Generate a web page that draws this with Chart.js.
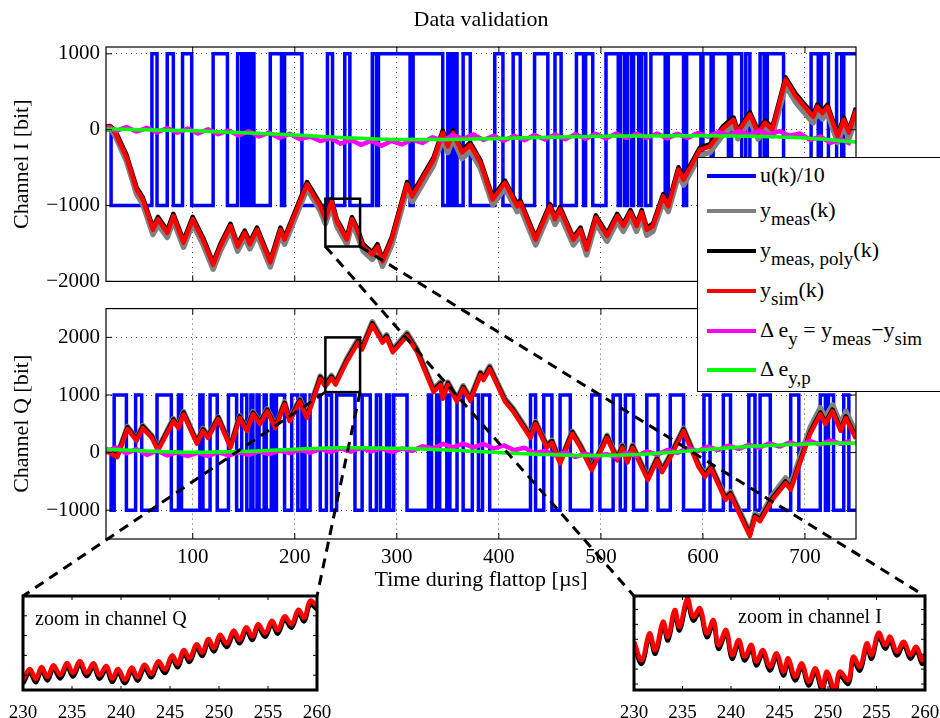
<!DOCTYPE html>
<html>
<head>
<meta charset="utf-8">
<script src="https://cdn.jsdelivr.net/npm/chart.js@4.4.1/dist/chart.umd.min.js"></script>
<style>
  html, body { margin: 0; padding: 0; background: #fff; overflow: hidden; }
  #page { position: relative; width: 940px; height: 718px; overflow: hidden; font-family: 'Liberation Serif', serif; }
  #page canvas { position: absolute; }
  #legend { position: absolute; left: 697px; top: 157px; width: 270px; height: 233px; border: 1.5px solid #000; background: #fff; }
  .row { position: absolute; left: 0; width: 100%; height: 0; }
  .sw { position: absolute; left: 9px; top: -2px; width: 49px; height: 4px; }
  .lab { position: absolute; left: 62px; top: -14px; white-space: nowrap; font-size: 22px; line-height: 26px; }
  .lab sub { font-size: 19px; vertical-align: -8px; line-height: 1; }
  #overlay { pointer-events: none; }
</style>
</head>
<body>
<div id="page">
  <canvas id="chartI" width="940" height="300" style="left:0;top:0"></canvas>
  <canvas id="chartQ" width="940" height="310" style="left:0;top:290px"></canvas>
  <canvas id="zoomQ" width="340" height="138" style="left:0;top:580px"></canvas>
  <canvas id="zoomI" width="345" height="138" style="left:600px;top:580px"></canvas>
  <canvas id="overlay" width="940" height="718" style="left:0;top:0"></canvas>
  <div id="legend"></div>
</div>
<script>
// ---------- channel I ----------
const tI = [15,19,24,35,45,51,61,66,75,81, 91,100,110,120,127,137,144,151,156,163,
  176,186,190,212,225,230,236,241,251,256, 261,267,276,281,286,295,310,315,336,345,
  350,355,364,372,382,394,406,418,421,436, 450,455,460,473,480,486,495,506,516,522,
  529,535,540,545,551,561,566,576,581,597, 607,620,630,634,646,654,661,668,681,691,
  708,712,717,722,732,738,743,750];
const simI = [30,40,-40,-360,-790,-920,-1320,-1180,-1360,-1140, -1490,-1180,-1450,-1780,-1540,-1270,-1540,-1360,-1510,-1320,
  -1750,-1320,-1450,-720,-1010,-1180,-945,-1205,-1450,-1180, -1320,-1540,-1645,-1540,-1735,-1450,-720,-880,-395,-40,
  -220,-40,-300,-200,-435,-920,-700,-1010,-960,-1450, -1010,-1180,-1050,-1450,-1320,-1580,-1160,-1400,-1140,-1270,
  -1090,-1270,-1090,-1320,-1270,-880,-1010,-525,-660,-265, -220,20,130,-40,200,-40,90,0,660,440,
  170,300,220,300,-90,130,-40,260];
const measI = [20,20,-80,-410,-850,-980,-1380,-1250,-1420,-1200, -1550,-1240,-1510,-1840,-1600,-1330,-1600,-1420,-1570,-1380,
  -1810,-1380,-1510,-780,-1070,-1240,-1010,-1270,-1510,-1240, -1380,-1600,-1710,-1610,-1800,-1520,-790,-950,-470,-120,
  -300,-120,-380,-280,-510,-990,-770,-1080,-1030,-1520, -1080,-1250,-1120,-1520,-1390,-1650,-1230,-1470,-1210,-1340,
  -1160,-1340,-1160,-1390,-1340,-950,-1080,-600,-730,-340, -300,-60,50,-120,120,-120,10,-80,580,360,
  90,220,140,220,-170,50,-120,170];
const polyI = [40,50,-10,-330,-760,-890,-1290,-1150,-1330,-1110, -1460,-1150,-1420,-1750,-1510,-1240,-1510,-1330,-1480,-1290,
  -1720,-1290,-1420,-690,-980,-1150,-915,-1175,-1420,-1150, -1290,-1510,-1615,-1510,-1705,-1420,-690,-850,-365,-10,
  -190,-10,-270,-170,-405,-890,-670,-980,-930,-1420, -980,-1150,-1020,-1420,-1290,-1550,-1130,-1370,-1110,-1240,
  -1060,-1240,-1060,-1290,-1240,-850,-980,-495,-630,-235, -190,50,160,-10,230,-10,120,30,690,470,
  200,330,250,330,-60,160,-10,290];
// u(k)/10 = +1000 inside these intervals, -1000 elsewhere
const uHighI = [[60,65],[75,81],[90,99],[120,134],[144,148],[151,154],[157,160],[176,187],[190,207],
  [232,237],[249,254],[276,280],[282,313],[316,345],[350,353],[356,359],[365,372],[396,404],[414,421],
  [435,448],[455,461],[476,483],[485,492],[505,517],[519,523],[526,530],[532,537],[540,544],[549,563],
  [566,581],[584,598],[600,608],[610,625],[628,638],[642,646],[656,660],[663,679],[706,713],[716,723],
  [731,736],[738,750]];

// ---------- channel Q ----------
const tQ = [15,26,36,45,51,60,66,81,86,91, 104,110,115,125,137,146,153,159,166,173,
  181,190,195,205,212,225,230,236,240,251, 262,266,276,286,290,296,310,320,336,343,
  345,350,359,365,372,382,385,391,406,414, 431,436,447,452,460,472,480,491,506,516,
  521,526,531,546,555,560,568,581,596,602, 608,622,627,646,651,656,668,681,686,705,
  715,720,727,735,740,750];
const simQ = [35,-80,410,205,425,255,35,545,425,665, 155,375,255,580,85,600,375,665,495,715,
  425,835,545,885,600,1280,1150,1290,1180,1580, 1910,1790,2215,1910,1995,1740,2025,1740,1055,1175,
  935,1175,885,1110,900,1345,1260,1450,885,715, 255,495,85,170,-190,325,85,-305,255,-135,
  85,-170,85,-475,-135,-340,-85,375,-260,-420, -278,-820,-735,-1450,-1125,-1190,-820,-530,-645,325,
  665,495,715,375,600,240];
const measQ = [60,-50,450,240,470,290,70,590,460,710, 190,420,290,620,120,640,410,710,530,760,
  460,880,580,930,640,1330,1190,1340,1220,1630, 1970,1840,2270,1960,2045,1790,2080,1790,1110,1225,
  985,1225,935,1160,950,1395,1310,1500,935,765, 300,540,130,215,-150,370,130,-260,300,-90,
  130,-125,130,-430,-90,-295,-40,420,-210,-370, -230,-770,-680,-1390,-1060,-1120,-740,-440,-550,430,
  780,610,830,490,720,350];
const polyQ = [55,-55,440,235,455,285,60,575,455,695, 185,405,285,610,115,630,405,695,525,745,
  455,865,575,915,630,1310,1180,1320,1210,1610, 1940,1820,2245,1940,2025,1770,2055,1770,1085,1205,
  965,1205,915,1140,930,1375,1290,1480,915,745, 285,525,115,200,-160,355,115,-275,285,-105,
  115,-140,115,-445,-105,-310,-55,405,-230,-390, -248,-790,-705,-1420,-1095,-1160,-790,-500,-615,355,
  695,525,745,405,630,270];
const uHighQ = [[23,35],[44,50],[65,79],[86,89],[107,110],[117,124],[135,143],[148,153],[157,159],
  [163,165],[170,172],[177,179],[182,190],[197,203],[207,210],[215,225],[231,236],[241,259],[266,274],
  [280,284],[290,293],[297,310],[331,334],[339,342],[349,352],[359,365],[374,380],[384,391],[431,436],
  [444,452],[460,470],[491,499],[512,519],[524,532],[545,556],[568,581],[601,607],[620,627],[645,651],
  [656,666],[686,694],[715,720],[723,728],[738,743]];

// ---------- errors ----------
const tErr = [15,25,35,45,55,65,75,85,95,105, 115,125,135,145,155,165,175,185,195,205,
  215,225,235,245,255,265,275,285,295,305, 315,325,335,345,355,365,375,385,395,405,
  415,425,435,445,455,465,475,485,495,505, 515,525,535,545,555,565,575,585,595,605,
  615,625,635,645,655,665,675,685,695,705, 715,725,735,745];
const errI = [40,-15,35,-25,25,-35,20,-40,15,-50, 5,-60,-10,-75,-20,-90,-40,-110,-55,-125,
  -90,-150,-110,-185,-135,-200,-145,-210,-150,-195, -130,-175,-100,-145,-70,-120,-65,-135,-80,-145,
  -80,-140,-70,-130,-65,-125,-60,-120,-55,-115, -50,-110,-55,-110,-50,-115,-55,-110,-45,-90,
  -30,-80,-20,-70,-15,-65,-20,-80,-50,-135, -90,-175,-125,-190];
const errQ = [20,90,-10,60,-40,35,-50,10,-60,0, -60,10,-50,5,-40,20,-25,35,-10,50,
  0,65,10,75,15,80,20,75,10,70, 30,110,70,150,90,155,90,150,70,125,
  40,85,-10,30,-50,0,-75,-20,-80,-25, -75,-5,-55,20,-35,45,-5,80,25,105,
  45,120,65,135,85,160,105,175,125,200, 140,210,150,205];
const tFit = [15,50,100,150,200,250,300,350,400,450,500,550,600,650,700,750];
const fitI = [10,0,-15,-40,-70,-105,-128,-128,-115,-100,-88,-82,-80,-88,-110,-162];
const fitQ = [60,30,5,20,60,85,75,45,0,-35,-50,-20,50,110,150,168];

// ---------- ticks ----------
const timeTicks = [100, 200, 300, 400, 500, 600, 700];
const yTicksI = [-2000, -1000, 0, 1000];
const yTicksQ = [-1000, 0, 1000, 2000];
const zoomTicks = [230, 235, 240, 245, 250, 255, 260];
const zoomYTicksQ = [1200, 1400, 1600, 1800, 2000];
const zoomYTicksI = [-1500, -1400, -1300, -1200, -1100, -1000];

// ---------- zoom windows ----------
const boxT = [230, 264];
const boxVI = [-1540, -910];
const boxVQ = [1050, 2000];
const tZQ = [230.0,230.7,231.3,231.9,232.5,233.1,233.8,234.5,235.1,235.8, 236.5,237.2,237.8,238.5,239.1,239.7,240.4,241.1,241.7,242.4,
  243.1,243.8,244.5,245.2,245.8,246.4,247.0,247.7,248.3,248.9, 249.5,250.1,250.8,251.5,252.1,252.8,253.4,254.0,254.7,255.4,
  256.0,256.7,257.4,258.1,258.7,259.3,260.0];
const zSimQ = [1150,1262,1163,1283,1182,1301,1202,1323,1221,1342, 1225,1321,1199,1293,1167,1263,1153,1277,1179,1305,
  1213,1340,1257,1399,1316,1453,1370,1512,1429,1565, 1475,1608,1519,1650,1557,1685,1590,1715,1623,1750,
  1655,1795,1715,1860,1780,1950,1900];
const zPolyQ = [1115,1227,1128,1248,1147,1266,1167,1288,1186,1307, 1190,1286,1164,1258,1132,1228,1118,1242,1144,1270,
  1178,1305,1222,1364,1281,1418,1335,1477,1394,1530, 1440,1573,1484,1615,1522,1650,1555,1680,1588,1715,
  1620,1760,1680,1825,1745,1915,1865];
const tZI = [230.0,230.8,231.6,232.2,233.0,233.5,234.2,234.7,235.5,236.1, 236.8,237.5,238.2,238.7,239.5,240.1,240.8,241.4,242.1,242.6,
  243.3,244.0,244.7,245.4,245.9,246.6,247.3,248.0,248.7,249.4, 249.9,250.7,251.2,252.1,252.6,253.3,254.0,254.5,255.2,255.9,
  256.4,257.1,257.8,258.5,259.1,259.7,260.0];
const zSimI = [-1215,-1339,-1160,-1272,-1082,-1183,-1004,-1116,-926,-1049, -992,-1160,-1071,-1238,-1138,-1305,-1205,-1317,-1238,-1350,
  -1272,-1384,-1294,-1417,-1328,-1451,-1361,-1484,-1395,-1518, -1417,-1540,-1417,-1473,-1317,-1384,-1227,-1305,-1156,-1238,
  -1183,-1283,-1216,-1305,-1250,-1339,-1305];
const zPolyI = [-1240,-1364,-1185,-1297,-1107,-1208,-1029,-1141,-951,-1074, -1017,-1185,-1096,-1263,-1163,-1330,-1230,-1342,-1263,-1375,
  -1297,-1409,-1319,-1442,-1353,-1476,-1386,-1509,-1420,-1543, -1442,-1565,-1442,-1498,-1342,-1409,-1252,-1330,-1181,-1263,
  -1208,-1308,-1241,-1330,-1275,-1364,-1330];

const legendNames = ['u(k)/10', 'y<sub>meas</sub>(k)', 'y<sub>meas, poly</sub>(k)', 'y<sub>sim</sub>(k)',
  'Δ e<sub>y</sub> = y<sub>meas</sub>−y<sub>sim</sub>', 'Δ e<sub>y,p</sub>'];
const colors = ['#0000ff', '#808080', '#000000', '#ff0000', '#ff00ff', '#00ff00'];

Chart.defaults.font.family = "'Liberation Serif', serif";
Chart.defaults.color = '#000';
Chart.defaults.animation = false;
Chart.defaults.plugins.legend.display = false;
Chart.defaults.plugins.tooltip.enabled = false;

const pts = (xs, ys) => xs.map((x, i) => ({ x: x, y: ys[i] }));
const fixTicks = vals => s => { s.ticks = vals.map(v => ({ value: v })); };

function stepData(highs) {
  const d = [{ x: 15, y: 0 }, { x: 20, y: -1000 }];
  highs.forEach(h => {
    d.push({ x: h[0], y: 1000 });
    if (h[1] < 750) d.push({ x: h[1], y: -1000 });
  });
  const last = d[d.length - 1];
  if (last.x < 750) d.push({ x: 750, y: last.y });
  return d;
}

// frame, inward ticks, zoom rectangle and note text
const framePlugin = {
  id: 'frame',
  afterDatasetsDraw(chart, args, o) {
    const { ctx, chartArea: a } = chart;
    const x = chart.scales.x, y = chart.scales.y;
    ctx.save();
    ctx.strokeStyle = '#000';
    ctx.lineWidth = 1;
    ctx.beginPath();
    x.ticks.forEach(tk => {
      const p = x.getPixelForValue(tk.value);
      ctx.moveTo(p, a.bottom); ctx.lineTo(p, a.bottom - o.tick);
      ctx.moveTo(p, a.top); ctx.lineTo(p, a.top + o.tick);
    });
    y.ticks.forEach(tk => {
      const p = y.getPixelForValue(tk.value);
      ctx.moveTo(a.left, p); ctx.lineTo(a.left + o.tick, p);
      ctx.moveTo(a.right, p); ctx.lineTo(a.right - o.tick, p);
    });
    ctx.stroke();
    ctx.lineWidth = o.width;
    ctx.strokeRect(a.left, a.top, a.right - a.left, a.bottom - a.top);
    if (o.box) {
      const x0 = x.getPixelForValue(o.box.t[0]), x1 = x.getPixelForValue(o.box.t[1]);
      const y0 = y.getPixelForValue(o.box.v[1]), y1 = y.getPixelForValue(o.box.v[0]);
      ctx.lineWidth = 2.5;
      ctx.strokeRect(x0, y0, x1 - x0, y1 - y0);
    }
    if (o.note) {
      ctx.font = "20px 'Liberation Serif', serif";
      ctx.fillStyle = '#000';
      ctx.textBaseline = 'alphabetic';
      ctx.fillText(o.note.text, a.left + o.note.dx, a.top + o.note.dy);
    }
    ctx.restore();
  }
};

const lineBase = { pointRadius: 0, fill: false, borderJoinStyle: 'round' };

function mainChart(id, c) {
  return new Chart(document.getElementById(id), {
    type: 'line',
    data: {
      datasets: [
        Object.assign({ data: pts(tFit, c.fit), borderColor: colors[5], borderWidth: 3.5, tension: 0.4 }, lineBase),
        Object.assign({ data: pts(tErr, c.err), borderColor: colors[4], borderWidth: 4.5 }, lineBase),
        Object.assign({ data: pts(c.t, c.sim), borderColor: colors[3], borderWidth: 4.5 }, lineBase),
        Object.assign({ data: pts(c.t, c.poly), borderColor: colors[2], borderWidth: 4.5 }, lineBase),
        Object.assign({ data: pts(c.t, c.meas), borderColor: colors[1], borderWidth: 5.5 }, lineBase),
        { data: stepData(c.uHigh), borderColor: colors[0], borderWidth: 3.5, pointRadius: 0, stepped: 'before' }
      ]
    },
    options: {
      responsive: false,
      layout: { padding: c.padding },
      plugins: {
        title: c.title ? {
          display: true, text: c.title, fullSize: false,
          font: { size: 22, weight: 'normal' }, padding: { top: 7, bottom: 13.6 }
        } : { display: false },
        frame: { width: 1.2, tick: 6, box: c.box }
      },
      scales: {
        x: {
          type: 'linear', min: 15, max: 750,
          afterFit: s => { s.height = c.showX ? 61 : 0; },
          afterBuildTicks: fixTicks(timeTicks),
          ticks: { display: c.showX, padding: 6, font: { size: 21 } },
          grid: { drawTicks: false, color: '#555' },
          border: { display: false, dash: [1, 4] },
          title: {
            display: c.showX, text: 'Time during flattop [µs]',
            font: { size: 22 }, padding: { top: 0, bottom: 7 }
          }
        },
        y: {
          min: c.yMin, max: c.yMax,
          afterFit: s => { s.width = 106; },
          afterBuildTicks: fixTicks(c.yTicks),
          ticks: {
            padding: 6, font: { size: 21 },
            callback: v => String(v).replace('-', '−')
          },
          grid: { drawTicks: false, color: '#555' },
          border: { display: false, dash: [1, 4] },
          title: { display: true, text: c.yTitle, font: { size: 22 }, padding: { top: 9, bottom: 0 } }
        }
      }
    },
    plugins: [framePlugin]
  });
}

function zoomChart(id, c) {
  return new Chart(document.getElementById(id), {
    type: 'line',
    data: {
      datasets: [
        Object.assign({ data: pts(c.t, c.sim), borderColor: colors[3], borderWidth: 4.5, tension: 0.4 }, lineBase),
        Object.assign({ data: pts(c.t, c.poly), borderColor: colors[2], borderWidth: 4.5, tension: 0.4 }, lineBase)
      ]
    },
    options: {
      responsive: false,
      layout: { padding: c.padding },
      plugins: { frame: { width: 3, tick: 4, note: c.note } },
      scales: {
        x: {
          type: 'linear', min: 230, max: 260,
          afterFit: s => { s.height = 28; },
          afterBuildTicks: fixTicks(zoomTicks),
          ticks: { padding: 4, font: { size: 19 } },
          grid: { display: false },
          border: { display: false }
        },
        y: { display: false, min: c.v[0], max: c.v[1], afterBuildTicks: fixTicks(c.yTicks) }
      }
    },
    plugins: [framePlugin]
  });
}

const chartI = mainChart('chartI', {
  t: tI, sim: simI, meas: measI, poly: polyI, fit: fitI, err: errI, uHigh: uHighI,
  yMin: -2000, yMax: 1090, yTicks: yTicksI, yTitle: 'Channel I [bit]', showX: false, title: 'Data validation',
  padding: { left: 0, right: 84, top: 0, bottom: 18 }, box: { t: boxT, v: boxVI }
});
const chartQ = mainChart('chartQ', {
  t: tQ, sim: simQ, meas: measQ, poly: polyQ, fit: fitQ, err: errQ, uHigh: uHighQ,
  yMin: -1500, yMax: 2500, yTicks: yTicksQ, yTitle: 'Channel Q [bit]', showX: true,
  padding: { left: 0, right: 84, top: 15, bottom: 0 }, box: { t: boxT, v: boxVQ }
});
const zoomQ = zoomChart('zoomQ', {
  t: tZQ, sim: zSimQ, poly: zPolyQ, v: boxVQ, yTicks: zoomYTicksQ,
  padding: { left: 23, right: 23, top: 16, bottom: 0 },
  note: { text: 'zoom in channel Q', dx: 12, dy: 29 }
});
const zoomI = zoomChart('zoomI', {
  t: tZI, sim: zSimI, poly: zPolyI, v: boxVI, yTicks: zoomYTicksI,
  padding: { left: 34, right: 20, top: 16, bottom: 0 },
  note: { text: 'zoom in channel I', dx: 104, dy: 27 }
});

// dashed connectors from the zoom rectangles to the insets
function canvasOffset(chart) {
  const el = chart.canvas;
  return [el.offsetLeft, el.offsetTop];
}
function boxCorner(chart, t, v) {
  const o = canvasOffset(chart);
  return [o[0] + chart.scales.x.getPixelForValue(t), o[1] + chart.scales.y.getPixelForValue(v)];
}
function areaCorner(chart, side) {
  const o = canvasOffset(chart);
  const a = chart.chartArea;
  return [o[0] + (side === 'left' ? a.left : a.right), o[1] + a.top];
}
const ov = document.getElementById('overlay').getContext('2d');
ov.strokeStyle = '#000';
ov.lineWidth = 3;
ov.setLineDash([10, 7]);
[
  [boxCorner(chartI, boxT[0], boxVI[0]), areaCorner(zoomI, 'left')],
  [boxCorner(chartI, boxT[1], boxVI[0]), areaCorner(zoomI, 'right')],
  [boxCorner(chartQ, boxT[0], boxVQ[0]), areaCorner(zoomQ, 'left')],
  [boxCorner(chartQ, boxT[1], boxVQ[0]), areaCorner(zoomQ, 'right')]
].forEach(seg => {
  ov.beginPath();
  ov.moveTo(seg[0][0], seg[0][1]);
  ov.lineTo(seg[1][0], seg[1][1]);
  ov.stroke();
});

// legend with subscripts
const rowCenters = [18, 53, 93, 133, 173, 212];
const legend = document.getElementById('legend');
legendNames.forEach((name, i) => {
  const row = document.createElement('div');
  row.className = 'row';
  row.style.top = rowCenters[i] + 'px';
  row.innerHTML = '<div class="sw" style="background:' + colors[i] + '"></div><div class="lab">' + name + '</div>';
  legend.appendChild(row);
});
</script>
</body>
</html>
